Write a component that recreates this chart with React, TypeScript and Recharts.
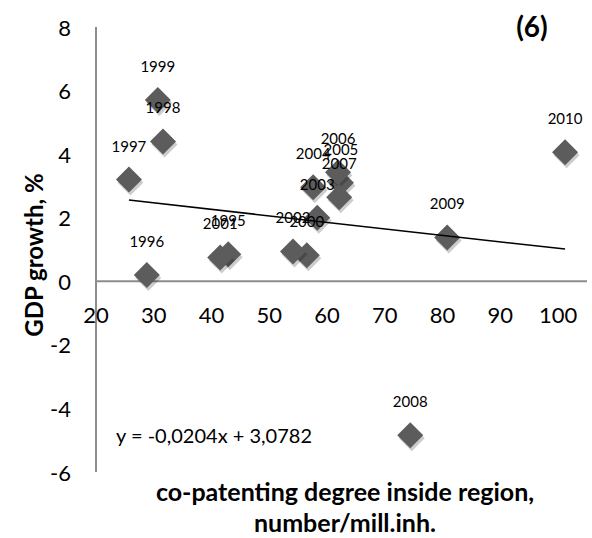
import React from 'react';
import { ReferenceLine, Scatter, ScatterChart, XAxis, YAxis } from 'recharts';

const years = ['1995', '1996', '1997', '1998', '1999', '2000', '2001', '2002', '2003', '2004', '2005', '2006', '2007', '2008', '2009', '2010'];
const coPatenting = [42.9, 28.8, 25.7, 31.6, 30.7, 56.5, 41.5, 54.1, 58.3, 57.6, 62.4, 61.9, 62.1, 74.4, 80.8, 101.2];
const gdpGrowth = [0.85, 0.2, 3.2, 4.4, 5.7, 0.82, 0.75, 0.94, 2.0, 2.96, 3.1, 3.43, 2.64, -4.84, 1.38, 4.06];

const xTicks = [20, 30, 40, 50, 60, 70, 80, 90, 100];
const yTicks = [-6, -4, -2, 0, 2, 4, 6, 8];

const SLOPE = -0.0204;
const INTERCEPT = 3.0782;

const W = 592;
const H = 538;
const PLOT_LEFT = 96;
const PLOT_TOP = 27;
const PLOT_BOTTOM = 472;
const Y_MIN = -6;
const Y_MAX = 8;
const ZERO_Y = PLOT_TOP + ((PLOT_BOTTOM - PLOT_TOP) * Y_MAX) / (Y_MAX - Y_MIN);

const FONT = 'Lato, "Open Sans", sans-serif';
const AXIS_GRAY = '#8c8c8c';

const points = years.map((year, i) => ({ year, x: coPatenting[i], y: gdpGrowth[i] }));
const minX = Math.min(...coPatenting);
const maxX = Math.max(...coPatenting);
const trend = [minX, maxX].map((x) => ({ x, y: SLOPE * x + INTERCEPT }));

const Diamond = (props: any) => {
    const { cx, cy } = props;
    const r = 13;
    const pts = (dx: number, dy: number) =>
        `${cx + dx},${cy - r + dy} ${cx + r + dx},${cy + dy} ${cx + dx},${cy + r + dy} ${cx - r + dx},${cy + dy}`;
    return (
        <g>
            <polygon points={pts(1.5, 3)} fill="rgba(0,0,0,0.2)" />
            <polygon points={pts(0, 0)} fill="#5c5c5c" />
        </g>
    );
};

const YearLabel = (props: any) => {
    const { cx, cy, payload } = props;
    return (
        <text x={cx} y={cy - 34} textAnchor="middle" dominantBaseline="central" fontSize={15} fontFamily={FONT} fill="#000">
            {payload.year}
        </text>
    );
};

// x tick labels hang under the y=0 line, not the plot bottom
const XTick = (props: any) => {
    const { x, payload } = props;
    return (
        <text x={x} y={ZERO_Y + 33} textAnchor="middle" dominantBaseline="central" fontSize={22} fontFamily={FONT} fill="#000">
            {payload.value}
        </text>
    );
};

const YTick = (props: any) => {
    const { y, payload } = props;
    return (
        <text x={PLOT_LEFT - 25} y={y} textAnchor="end" dominantBaseline="central" fontSize={22} fontFamily={FONT} fill="#000">
            {payload.value}
        </text>
    );
};

export default function App() {
    return (
        <div style={{ position: 'absolute', left: 0, top: 0, width: W, height: H, background: '#fff' }}>
            <ScatterChart width={W} height={H} margin={{ top: PLOT_TOP, right: 5, bottom: 36, left: 0 }}>
                <XAxis
                    type="number"
                    dataKey="x"
                    domain={[20, 105]}
                    ticks={xTicks}
                    axisLine={false}
                    tickLine={false}
                    height={30}
                    tick={<XTick />}
                    allowDataOverflow
                />
                <YAxis
                    type="number"
                    dataKey="y"
                    domain={[Y_MIN, Y_MAX]}
                    ticks={yTicks}
                    width={PLOT_LEFT}
                    tickLine={false}
                    axisLine={{ stroke: AXIS_GRAY, strokeWidth: 2 }}
                    tick={<YTick />}
                />
                <ReferenceLine y={0} stroke={AXIS_GRAY} strokeWidth={2} />
                <Scatter data={points} shape={<Diamond />} isAnimationActive={false} />
                <Scatter
                    data={trend}
                    line={{ stroke: '#000', strokeWidth: 1.5 }}
                    shape={() => <g />}
                    isAnimationActive={false}
                />
                <Scatter data={points} shape={<YearLabel />} isAnimationActive={false} />
            </ScatterChart>
            <div
                style={{
                    position: 'absolute',
                    left: 33,
                    top: 255,
                    transform: 'translate(-50%, -50%) rotate(-90deg)',
                    whiteSpace: 'nowrap',
                    fontFamily: FONT,
                    fontWeight: 700,
                    fontSize: 24,
                }}
            >
                GDP growth, %
            </div>
            <div
                style={{
                    position: 'absolute',
                    left: 532,
                    top: 26,
                    transform: 'translate(-50%, -50%)',
                    fontFamily: FONT,
                    fontWeight: 700,
                    fontSize: 28,
                }}
            >
                (6)
            </div>
            <div
                style={{
                    position: 'absolute',
                    left: 214,
                    top: 435,
                    transform: 'translate(-50%, -50%)',
                    whiteSpace: 'nowrap',
                    fontFamily: FONT,
                    fontSize: 20,
                }}
            >
                y = -0,0204x + 3,0782
            </div>
            <div
                style={{
                    position: 'absolute',
                    left: 345,
                    top: 507,
                    transform: 'translate(-50%, -50%)',
                    whiteSpace: 'nowrap',
                    textAlign: 'center',
                    fontFamily: FONT,
                    fontWeight: 700,
                    fontSize: 25,
                    lineHeight: '31px',
                }}
            >
                co-patenting degree inside region,
                <br />
                number/mill.inh.
            </div>
        </div>
    );
}
